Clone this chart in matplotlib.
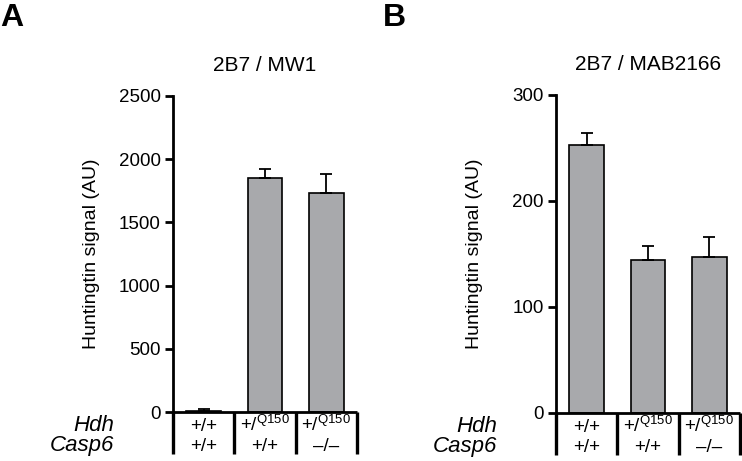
import matplotlib.pyplot as plt
from matplotlib import transforms

plt.rcParams['font.family'] = ['Liberation Sans', 'DejaVu Sans']

# genotypes (table under the bars)
hdh = ['+/+', '+/$^{\\mathregular{Q150}}$', '+/$^{\\mathregular{Q150}}$']
casp6 = ['+/+', '+/+', '\u2013/\u2013']

# panel A: 2B7 / MW1
mw1_mean = [12, 1848, 1730]
mw1_err = [14, 72, 152]

# panel B: 2B7 / MAB2166
mab_mean = [253, 144, 147]
mab_err = [11, 13, 19]

bar_color = '#a8a9ac'

fig = plt.figure(figsize=(7.42, 4.61), dpi=100)
axA = fig.add_axes([173 / 742, 1 - 412.3 / 461, 184 / 742, 316.6 / 461])
axB = fig.add_axes([556 / 742, 1 - 412.7 / 461, 184 / 742, 318 / 461])


def draw_panel(ax, means, errs, ymax, yticks, title):
    x = list(range(len(means)))
    ax.bar(x, means, width=0.57, color=bar_color, edgecolor='black',
           linewidth=1.2, zorder=2)
    ax.errorbar(x, means, yerr=[[0] * len(errs), errs], fmt='none',
                ecolor='black', elinewidth=1.3, capsize=4, capthick=1.3, zorder=3)
    ax.set_xlim(-0.5, len(means) - 0.5)
    ax.set_ylim(0, ymax)
    ax.set_yticks(yticks)
    ax.set_xticks([])
    for s in ['top', 'right']:
        ax.spines[s].set_visible(False)
    ax.spines['left'].set_linewidth(2)
    ax.spines['bottom'].set_linewidth(2)
    ax.spines['bottom'].set_capstyle('butt')
    ax.tick_params(axis='y', length=6, width=2, labelsize=13.5, pad=3)
    ax.set_ylabel('Huntingtin signal (AU)', fontsize=14)
    ax.yaxis.set_label_coords(-0.395, 0.5)
    ax.set_title(title, fontsize=15, pad=18)

    # genotype table below the axis
    trans = transforms.blended_transform_factory(ax.transData, ax.transAxes)
    h = ax.bbox.height
    for b in [i - 0.5 for i in range(len(means) + 1)]:
        ax.plot([b, b], [0, -42 / h], transform=trans, color='black',
                linewidth=2.4, clip_on=False, solid_capstyle='butt')
    for i in x:
        ax.annotate(hdh[i], xy=(i, 0), xycoords=trans, xytext=(0, -19),
                    textcoords='offset pixels', ha='center', va='baseline',
                    fontsize=13.5)
        ax.annotate(casp6[i], xy=(i, 0), xycoords=trans, xytext=(0, -39),
                    textcoords='offset pixels', ha='center', va='baseline',
                    fontsize=13.5)
    ax.annotate('Hdh', xy=(0, 0), xycoords='axes fraction', xytext=(-59, -19),
                textcoords='offset pixels', ha='right', va='baseline',
                fontsize=16, style='italic')
    ax.annotate('Casp6', xy=(0, 0), xycoords='axes fraction', xytext=(-59, -39),
                textcoords='offset pixels', ha='right', va='baseline',
                fontsize=16, style='italic')


draw_panel(axA, mw1_mean, mw1_err, 2500, [0, 500, 1000, 1500, 2000, 2500], '2B7 / MW1')
draw_panel(axB, mab_mean, mab_err, 300, [0, 100, 200, 300], '2B7 / MAB2166')

fig.text(0 / 742, 1 - 3 / 461, 'A', fontsize=23, fontweight='bold', ha='left', va='top')
fig.text(383 / 742, 1 - 3 / 461, 'B', fontsize=23, fontweight='bold', ha='left', va='top')

fig.savefig('out.png', dpi=100)
